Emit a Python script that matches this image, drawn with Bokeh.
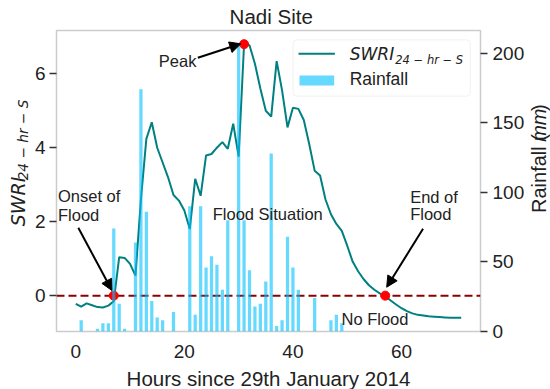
import math
from bokeh.plotting import figure
from bokeh.layouts import row, column
from bokeh.models import (Range1d, LinearAxis, FixedTicker, Span, Label, Arrow,
                          NormalHead, BoxAnnotation)
from bokeh.embed import file_html
from bokeh.resources import INLINE

# ---------------- data ----------------
hours = list(range(72))
swri = [-0.22, -0.30, -0.21, -0.26, -0.31, -0.32, -0.27, -0.15, 1.04, 1.02,
        0.86, 0.54, 2.6, 4.24, 4.69, 4.0, 3.6, 3.2, 2.72, 2.57,
        2.3, 1.8, 3.16, 2.7, 3.79, 3.83, 4.0, 4.15, 3.97, 4.65,
        3.76, 6.8, 6.77, 6.27, 5.6, 5.0, 4.84, 6.34, 5.55, 4.55,
        5.08, 5.05, 4.75, 4.1, 3.38, 3.25, 2.6, 2.2, 1.94, 1.75,
        1.35, 0.92, 0.66, 0.45, 0.28, 0.16, 0.06, -0.02, -0.13, -0.24,
        -0.34, -0.42, -0.48, -0.52, -0.54, -0.56, -0.57, -0.58, -0.59, -0.6,
        -0.6, -0.6]
rain_hours = [1, 4, 5, 6, 7, 8, 9, 11, 12, 13, 14, 15, 16, 18, 21, 22, 23, 24, 25,
              26, 27, 28, 30, 31, 32, 33, 34, 35, 36, 37, 38, 39, 40, 41, 44, 47, 48, 49]
rain_mm = [8, 2, 6, 6, 74, 20, 2, 64, 174, 86, 22, 10, 8, 14, 90, 12, 90, 46, 54,
           48, 30, 80, 206, 80, 44, 18, 20, 36, 128, 4, 8, 68, 46, 30, 24, 8, 12, 6]
event_hours = [7, 31, 57]
event_swri = [0.0, 6.8, 0.0]
x_ticks = [0, 20, 40, 60]
left_ticks = [0, 2, 4, 6]
right_ticks = [0, 50, 100, 150, 200]

# ---------------- layout (page pixels) ----------------
TOP_H = 29          # title strip
MID_Y = 29          # top of the middle row
MID_H = 337         # middle row height
BOT_Y = MID_Y + MID_H
BOT_H = 389 - BOT_Y
LEFT_W = 31
RIGHT_W = 23
MAIN_W = 550 - LEFT_W - RIGHT_W
FL, FR, FT, FB = 54, 482, 30, 331     # plot frame in page pixels
XMIN, XMAX = -3.55, 74.55
YMIN, YMAX = -0.97, 7.17
RMAX = 216.3

FONT = "Liberation Sans"
MATH = "DejaVu Sans"
TXT = "#222222"
BASE_SHIFT = 0.346   # svg text: move the anchor up to land the baseline


def blank(w, h):
    f = figure(width=w, height=h, x_range=Range1d(0, w), y_range=Range1d(h, 0),
               x_axis_type=None, y_axis_type=None, toolbar_location=None,
               output_backend="svg", min_border=0, outline_line_color=None)
    f.background_fill_color = "white"
    f.border_fill_color = "white"
    return f


def put(fig, conv, text, ix, iy, size, italic=False, font=FONT, align="left",
        vertical=False):
    """ix, iy: page pixel of the text baseline start (or centre)."""
    if vertical:
        ix -= BASE_SHIFT * size
    else:
        iy -= BASE_SHIFT * size
    x, y = conv(ix, iy)
    fig.add_layout(Label(x=x, y=y, text=text, text_font=font,
                         text_font_size=f"{size}px", text_color=TXT,
                         text_font_style="italic" if italic else "normal",
                         text_align=align, text_baseline="alphabetic",
                         angle=math.pi / 2 if vertical else 0.0))


def strip_conv(x0, y0):
    return lambda ix, iy: (ix - x0, iy - y0)


# ---------------- main plot ----------------
p = figure(width=MAIN_W, height=MID_H, output_backend="svg", toolbar_location=None,
           x_range=Range1d(XMIN, XMAX), y_range=Range1d(YMIN, YMAX),
           min_border_left=FL - LEFT_W, min_border_right=MAIN_W - (FR - LEFT_W),
           min_border_top=FT - MID_Y, min_border_bottom=MID_Y + MID_H - FB)
p.extra_y_ranges = {"rain": Range1d(0, RMAX)}
p.grid.visible = False
p.outline_line_color = "#cccccc"
p.outline_line_width = 1.5
p.background_fill_color = "white"
p.border_fill_color = "white"

right = LinearAxis(y_range_name="rain")
p.add_layout(right, "right")

for ax in p.xaxis + p.yaxis:
    ax.axis_line_color = None
    ax.minor_tick_line_color = None
    ax.major_label_text_font = FONT
    ax.major_label_text_font_size = "19px"
    ax.major_label_text_color = TXT
    ax.major_tick_line_color = "#333333"
    ax.major_tick_line_width = 1.3
    ax.major_tick_in = 0
    ax.major_tick_out = 7
    ax.major_label_standoff = 4

p.xaxis.ticker = FixedTicker(ticks=x_ticks)
p.xaxis.major_tick_line_color = None
p.xaxis.major_tick_out = 0
p.xaxis.major_label_standoff = 13
p.yaxis[0].ticker = FixedTicker(ticks=left_ticks)
right.ticker = FixedTicker(ticks=right_ticks)
right.major_label_standoff = 5

p.add_layout(Span(location=0, dimension="width", line_color="#8B0000",
                  line_dash="8 4", line_width=2, level="underlay"))

p.line(hours, swri, line_color="#008080", line_width=2)
p.scatter(event_hours, event_swri, size=9, fill_color="#ff0000",
          line_color="#ff0000")
p.vbar(x=rain_hours, top=rain_mm, bottom=0, width=0.6, y_range_name="rain",
       fill_color="#00BFFF", fill_alpha=0.6, line_color=None)


def dx(ix):
    return XMIN + (ix - FL) / (FR - FL) * (XMAX - XMIN)


def dy(iy):
    return YMAX - (iy - FT) / (FB - FT) * (YMAX - YMIN)


def main_conv(ix, iy):
    return dx(ix), dy(iy)


def lab(text, ix, iy, size, italic=False, font=FONT):
    put(p, main_conv, text, ix, iy, size, italic=italic, font=font)


AS = 16.5
lab("Peak", 157.3, 66.7, AS)
lab("Onset of", 55.5, 201.5, AS)
lab("Flood", 55.5, 220, AS)
lab("Flood Situation", 211.7, 219.3, AS)
lab("End of", 411, 202.3, AS)
lab("Flood", 411, 219.5, AS)
lab("No Flood", 341.7, 324, AS)


def arrow(x0, y0, x1, y1):
    p.add_layout(Arrow(end=NormalHead(size=11, fill_color="black",
                                      line_color="black", line_width=1),
                       x_start=dx(x0), y_start=dy(y0), x_end=dx(x1), y_end=dy(y1),
                       line_color="black", line_width=2))


arrow(196.7, 57.3, 240, 43.3)
arrow(76, 227.3, 110, 290)
arrow(424, 228.3, 387.3, 286.7)

# legend
p.add_layout(BoxAnnotation(left=dx(292.7), right=dx(471.7), top=dy(39.3),
                           bottom=dy(95.7), fill_color="white", fill_alpha=0.85,
                           line_color="#d0d0d0", line_width=1, border_radius=4,
                           level="annotation"))
p.add_layout(Arrow(end=None, x_start=dx(298.3), y_start=dy(53.3), x_end=dx(335),
                   y_end=dy(53.3), line_color="#008080", line_width=2))
p.add_layout(BoxAnnotation(left=dx(299.3), right=dx(334.3), top=dy(75),
                           bottom=dy(85), fill_color="#00BFFF", fill_alpha=0.6,
                           line_color=None, level="annotation"))
lab("SWRI", 350, 59.3, 17, italic=True, font=MATH)
lab("24 \u2212 hr \u2212 S", 396, 63.3, 11.5, italic=True, font=MATH)
lab("Rainfall", 350, 85, 17.5)

# ---------------- title / axis-label strips ----------------
top = blank(550, TOP_H)
put(top, strip_conv(0, 0), "Nadi Site", 270.7, 23, 20.5, align="center")

left = blank(LEFT_W, MID_H)
lc = strip_conv(0, MID_Y)
put(left, lc, "SWRI", 24.5, 248.3, 19, italic=True, font=MATH, vertical=True)
put(left, lc, "24 \u2212 hr \u2212 S", 27.5, 196.8, 13.7, italic=True, font=MATH,
    vertical=True)

rgt = blank(RIGHT_W, MID_H)
rc = strip_conv(550 - RIGHT_W, MID_Y)
RB = 545.5
put(rgt, rc, "Rainfall (", RB, 233.3, 20, vertical=True)
put(rgt, rc, "mm", RB, 153.6, 20, italic=True, vertical=True)
put(rgt, rc, ")", RB, 119.2, 20, vertical=True)

bot = blank(550, BOT_H)
put(bot, strip_conv(0, BOT_Y), "Hours since 29th January 2014", 268, 384.6, 20.5,
    align="center")

layout = column(top, row(left, p, rgt), bot)

open("out.html", "w").write(file_html(layout, INLINE))
